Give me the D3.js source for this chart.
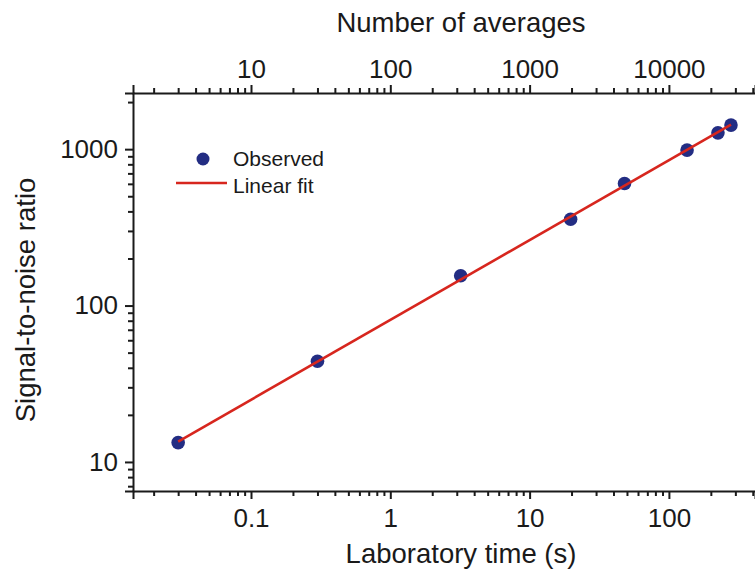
<!DOCTYPE html>
<html>
<head>
<meta charset="utf-8">
<script src="https://cdn.jsdelivr.net/npm/d3@7/dist/d3.min.js"></script>
<style>
  body { margin: 0; background: #fff; }
  svg { display: block; font-family: "Liberation Sans", Arial, sans-serif; }
  .axis path, .axis line { stroke: #1a1a1a; stroke-width: 2; }
  .axis text { fill: #1a1a1a; font-size: 26px; }
</style>
</head>
<body>
<svg id="chart" width="755" height="571"></svg>
<script>
"use strict";

// observed points (laboratory time in s, signal-to-noise ratio)
var timeS = [0.03, 0.3, 3.2, 19.7, 48, 135, 225, 279];
var snr = [13.3, 44, 155, 356, 603, 986, 1271, 1425];

// linear fit in log-log space, drawn between first and last point
var fitTime = [0.03, 279];
var fitSnr = [13.5, 1435];

var bottomLabels = [0.1, 1, 10, 100];
var topLabels = [10, 100, 1000, 10000];
var leftLabels = [10, 100, 1000];

// one average takes 10 ms of laboratory time
var avgPerSecond = 100;

var legendItems = ["Observed", "Linear fit"];

var plotLeft = 133, plotRight = 755, plotTop = 93, plotBottom = 491;

var svg = d3.select("#chart");

var x = d3.scaleLog().domain([0.01422, 415]).range([plotLeft, plotRight]);
var xTop = d3.scaleLog()
  .domain(x.domain().map(function(d){ return d * avgPerSecond; }))
  .range([plotLeft, plotRight]);
var y = d3.scaleLog().domain([6.52, 2286]).range([plotBottom, plotTop]);

function isDecade(d){
  var l = Math.log10(d);
  return Math.abs(l - Math.round(l)) < 1e-6;
}

function labelFor(list){
  return function(d){
    for(var i = 0; i < list.length; i++){
      if(Math.abs(list[i] - d) / d < 1e-6) return String(list[i]);
    }
    return "";
  };
}

function styleTicks(g, major, minor, dir){
  g.selectAll(".tick line")
  .attr(dir, function(d){ return isDecade(d) ? major : minor; });
}

// bottom axis
var gBottom = svg.append("g")
  .attr("class", "axis")
  .attr("transform", "translate(0," + plotBottom + ")")
  .call(d3.axisBottom(x)
    .tickValues(x.ticks())
    .tickFormat(labelFor(bottomLabels))
    .tickSizeOuter(0)
    .tickSize(8)
    .tickPadding(10));
styleTicks(gBottom, 8, 5, "y2");

// top axis
var gTop = svg.append("g")
  .attr("class", "axis")
  .attr("transform", "translate(0," + plotTop + ")")
  .call(d3.axisTop(xTop)
    .tickValues(xTop.ticks())
    .tickFormat(labelFor(topLabels))
    .tickSizeOuter(0)
    .tickSize(8)
    .tickPadding(7));
styleTicks(gTop, -8, -5, "y2");

// left axis
var gLeft = svg.append("g")
  .attr("class", "axis")
  .attr("transform", "translate(" + plotLeft + ",0)")
  .call(d3.axisLeft(y)
    .tickValues(y.ticks())
    .tickFormat(labelFor(leftLabels))
    .tickSizeOuter(0)
    .tickSize(8)
    .tickPadding(7));
styleTicks(gLeft, -8, -5, "x2");

// axis titles
svg.append("text")
  .attr("x", 461)
  .attr("y", 563)
  .attr("text-anchor", "middle")
  .attr("font-size", 27.5)
  .attr("fill", "#1a1a1a")
  .text("Laboratory time (s)");

svg.append("text")
  .attr("x", 461)
  .attr("y", 32)
  .attr("text-anchor", "middle")
  .attr("font-size", 27.5)
  .attr("fill", "#1a1a1a")
  .text("Number of averages");

svg.append("text")
  .attr("transform", "translate(35,300) rotate(-90)")
  .attr("text-anchor", "middle")
  .attr("font-size", 27.5)
  .attr("fill", "#1a1a1a")
  .text("Signal-to-noise ratio");

// data
var points = timeS.map(function(t, i){ return {t: t, s: snr[i]}; });
var fit = fitTime.map(function(t, i){ return {t: t, s: fitSnr[i]}; });

svg.append("g")
  .selectAll("circle")
  .data(points)
  .enter()
  .append("circle")
  .attr("cx", function(d){ return x(d.t); })
  .attr("cy", function(d){ return y(d.s); })
  .attr("r", 6.8)
  .attr("fill", "#232d83");

svg.append("path")
  .datum(fit)
  .attr("fill", "none")
  .attr("stroke", "#d7261e")
  .attr("stroke-width", 2.6)
  .attr("d", d3.line()
    .x(function(d){ return x(d.t); })
    .y(function(d){ return y(d.s); }));

// legend
var legend = svg.append("g").attr("transform", "translate(176,159)");

legend.append("circle")
  .attr("cx", 27)
  .attr("cy", 0)
  .attr("r", 6.5)
  .attr("fill", "#232d83");

legend.append("line")
  .attr("x1", 0)
  .attr("x2", 51)
  .attr("y1", 24)
  .attr("y2", 24)
  .attr("stroke", "#d7261e")
  .attr("stroke-width", 2.6);

legend.selectAll("text")
  .data(legendItems)
  .enter()
  .append("text")
  .attr("x", 57)
  .attr("y", function(d, i){ return 7 + i * 27; })
  .attr("font-size", 21)
  .attr("fill", "#1a1a1a")
  .text(function(d){ return d; });
</script>
</body>
</html>
